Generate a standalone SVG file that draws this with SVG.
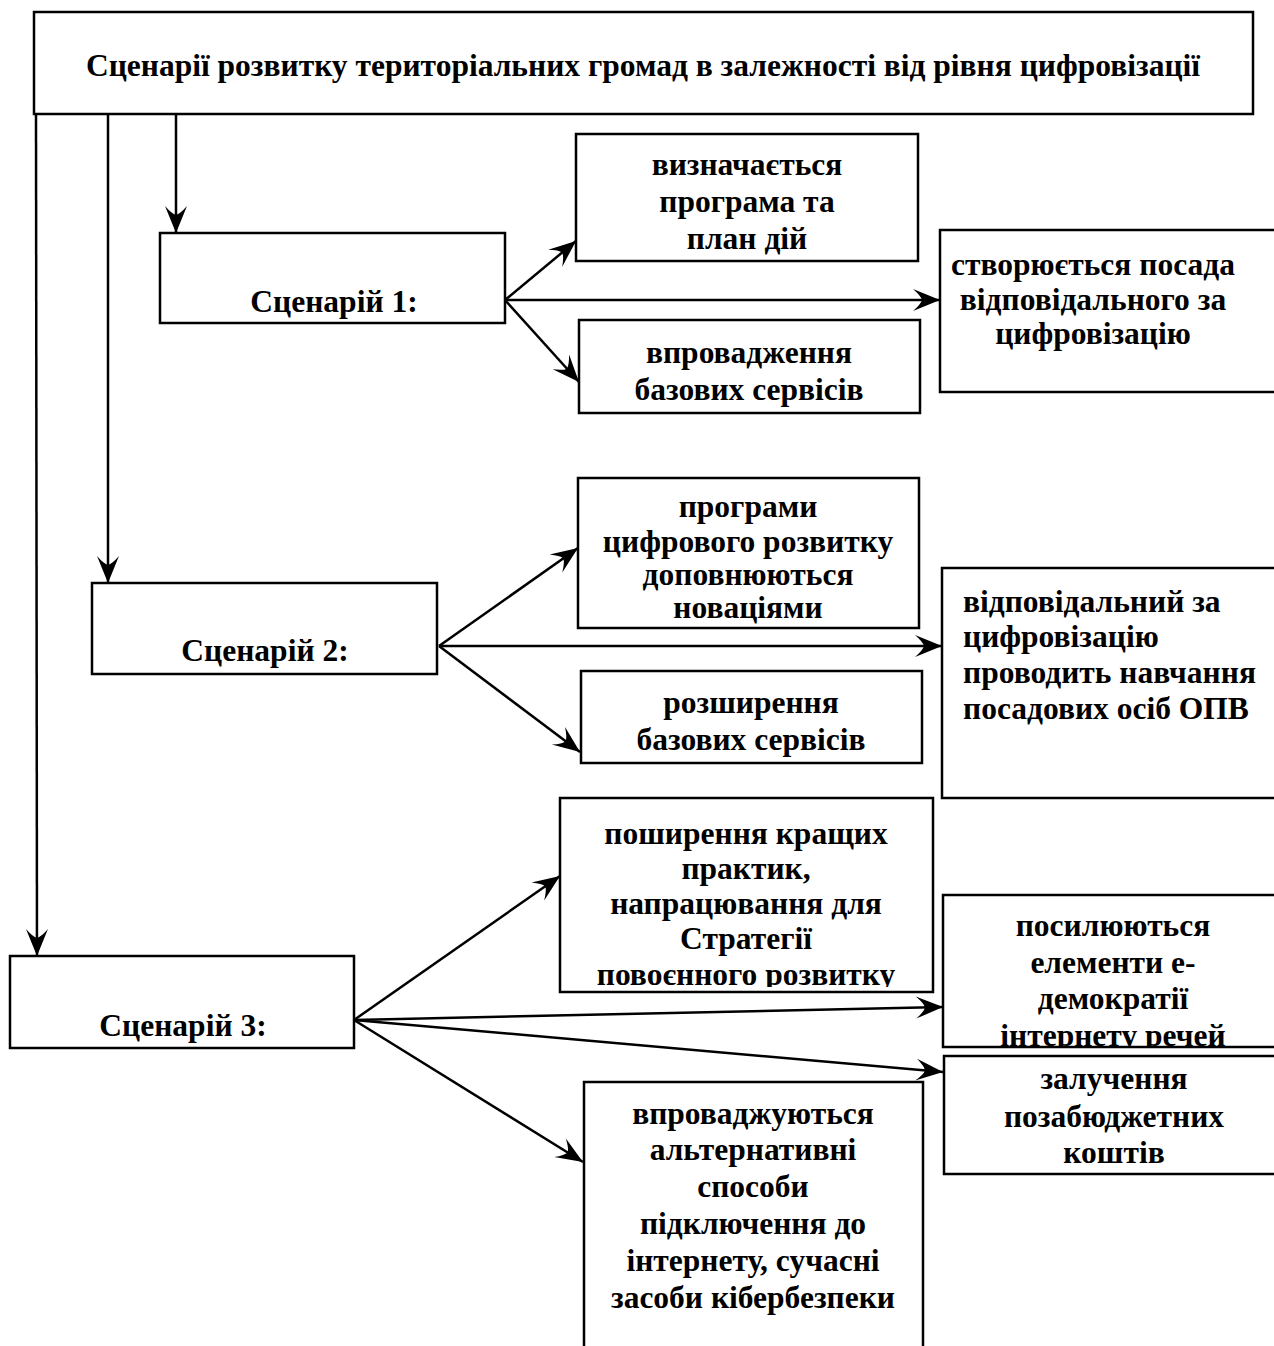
<svg xmlns="http://www.w3.org/2000/svg" width="1274" height="1346" viewBox="0 0 1274 1346">
<style>
.box{fill:#fff;stroke:#000;stroke-width:2.5}
.t{font-family:"Liberation Serif","Times New Roman",serif;font-weight:bold;font-size:31.5px;fill:#000}
.c{text-anchor:middle}
.ln{fill:none;stroke:#000;stroke-width:2.5;marker-end:url(#ah)}
</style>
<defs>
<marker id="ah" markerUnits="userSpaceOnUse" markerWidth="32" markerHeight="28" viewBox="-28 -14 30 28" refX="0" refY="0" orient="auto">
<path d="M0,0 L-27,-11 Q-19,-4 -18,0 Q-19,4 -27,11 Z" fill="#000"/>
</marker>
<clipPath id="c1"><rect x="580" y="322" width="340" height="89"/></clipPath>
<clipPath id="c2"><rect x="582" y="673" width="340" height="88"/></clipPath>
<clipPath id="c3"><rect x="561" y="799" width="371" height="188"/></clipPath>
<clipPath id="c4"><rect x="944" y="896" width="340" height="150"/></clipPath>
</defs>
<rect width="1274" height="1346" fill="#fff"/>

<g id="connectors">
<line class="ln" x1="176" y1="114" x2="176" y2="233"/>
<line class="ln" x1="108" y1="114" x2="108" y2="583"/>
<line class="ln" x1="36" y1="114" x2="37" y2="956"/>
<line class="ln" x1="505" y1="300" x2="576" y2="241"/>
<line class="ln" x1="505" y1="300" x2="940" y2="300"/>
<line class="ln" x1="505" y1="300" x2="579" y2="382"/>
<line class="ln" x1="439" y1="646" x2="578" y2="548"/>
<line class="ln" x1="439" y1="646" x2="942" y2="646"/>
<line class="ln" x1="439" y1="646" x2="580" y2="752"/>
<line class="ln" x1="354" y1="1020" x2="560" y2="876"/>
<line class="ln" x1="354" y1="1020" x2="943" y2="1007"/>
<line class="ln" x1="354" y1="1020" x2="943" y2="1072"/>
<line class="ln" x1="354" y1="1020" x2="583" y2="1162"/>
</g>

<g id="title">
<rect class="box" x="34" y="12" width="1219" height="102"/>
<text class="t c" x="643" y="76">Сценарії розвитку територіальних громад в залежності від рівня цифровізації</text>
</g>

<g id="s1">
<rect class="box" x="160" y="233" width="345" height="90"/>
<text class="t c" x="334" y="312">Сценарій 1:</text>
</g>

<g id="s1a">
<rect class="box" x="576" y="134" width="342" height="127"/>
<text class="t c" x="747" y="175">визначається</text>
<text class="t c" x="747" y="212">програма та</text>
<text class="t c" x="747" y="249">план дій</text>
</g>

<g id="s1b">
<rect class="box" x="579" y="320" width="341" height="93"/>
<g clip-path="url(#c1)">
<text class="t c" x="749" y="363">впровадження</text>
<text class="t c" x="749" y="400">базових сервісів</text>
</g>
</g>

<g id="s1c">
<rect class="box" x="940" y="230" width="350" height="162"/>
<text class="t c" x="1093" y="275">створюється посада</text>
<text class="t c" x="1093" y="310">відповідального за</text>
<text class="t c" x="1093" y="344">цифровізацію</text>
</g>

<g id="s2">
<rect class="box" x="92" y="583" width="345" height="91"/>
<text class="t c" x="265" y="661">Сценарій 2:</text>
</g>

<g id="s2a">
<rect class="box" x="578" y="478" width="341" height="150"/>
<text class="t c" x="748" y="517">програми</text>
<text class="t c" x="748" y="552">цифрового розвитку</text>
<text class="t c" x="748" y="585">доповнюються</text>
<text class="t c" x="748" y="618">новаціями</text>
</g>

<g id="s2b">
<rect class="box" x="581" y="671" width="341" height="92"/>
<g clip-path="url(#c2)">
<text class="t c" x="751" y="713">розширення</text>
<text class="t c" x="751" y="750">базових сервісів</text>
</g>
</g>

<g id="s2c">
<rect class="box" x="942" y="568" width="350" height="230"/>
<text class="t" x="963" y="612">відповідальний за</text>
<text class="t" x="963" y="647">цифровізацію</text>
<text class="t" x="963" y="683">проводить навчання</text>
<text class="t" x="963" y="719">посадових осіб ОПВ</text>
</g>

<g id="s3">
<rect class="box" x="10" y="956" width="344" height="92"/>
<text class="t c" x="183" y="1036">Сценарій 3:</text>
</g>

<g id="s3a">
<rect class="box" x="560" y="798" width="373" height="194"/>
<g clip-path="url(#c3)">
<text class="t c" x="746" y="844">поширення кращих</text>
<text class="t c" x="746" y="879">практик,</text>
<text class="t c" x="746" y="914">напрацювання для</text>
<text class="t c" x="746" y="949">Стратегії</text>
<text class="t c" x="746" y="985">повоєнного розвитку</text>
</g>
</g>

<g id="s3b">
<rect class="box" x="943" y="895" width="350" height="152"/>
<g clip-path="url(#c4)">
<text class="t c" x="1113" y="936">посилюються</text>
<text class="t c" x="1113" y="973">елементи е-</text>
<text class="t c" x="1113" y="1009">демократії</text>
<text class="t c" x="1113" y="1046">інтернету речей</text>
</g>
</g>

<g id="s3c">
<rect class="box" x="944" y="1056" width="350" height="118"/>
<text class="t c" x="1114" y="1089">залучення</text>
<text class="t c" x="1114" y="1127">позабюджетних</text>
<text class="t c" x="1114" y="1163">коштів</text>
</g>

<g id="s3d">
<rect class="box" x="584" y="1082" width="339" height="280"/>
<text class="t c" x="753" y="1124">впроваджуються</text>
<text class="t c" x="753" y="1160">альтернативні</text>
<text class="t c" x="753" y="1197">способи</text>
<text class="t c" x="753" y="1234">підключення до</text>
<text class="t c" x="753" y="1271">інтернету, сучасні</text>
<text class="t c" x="753" y="1308">засоби кібербезпеки</text>
</g>
</svg>
